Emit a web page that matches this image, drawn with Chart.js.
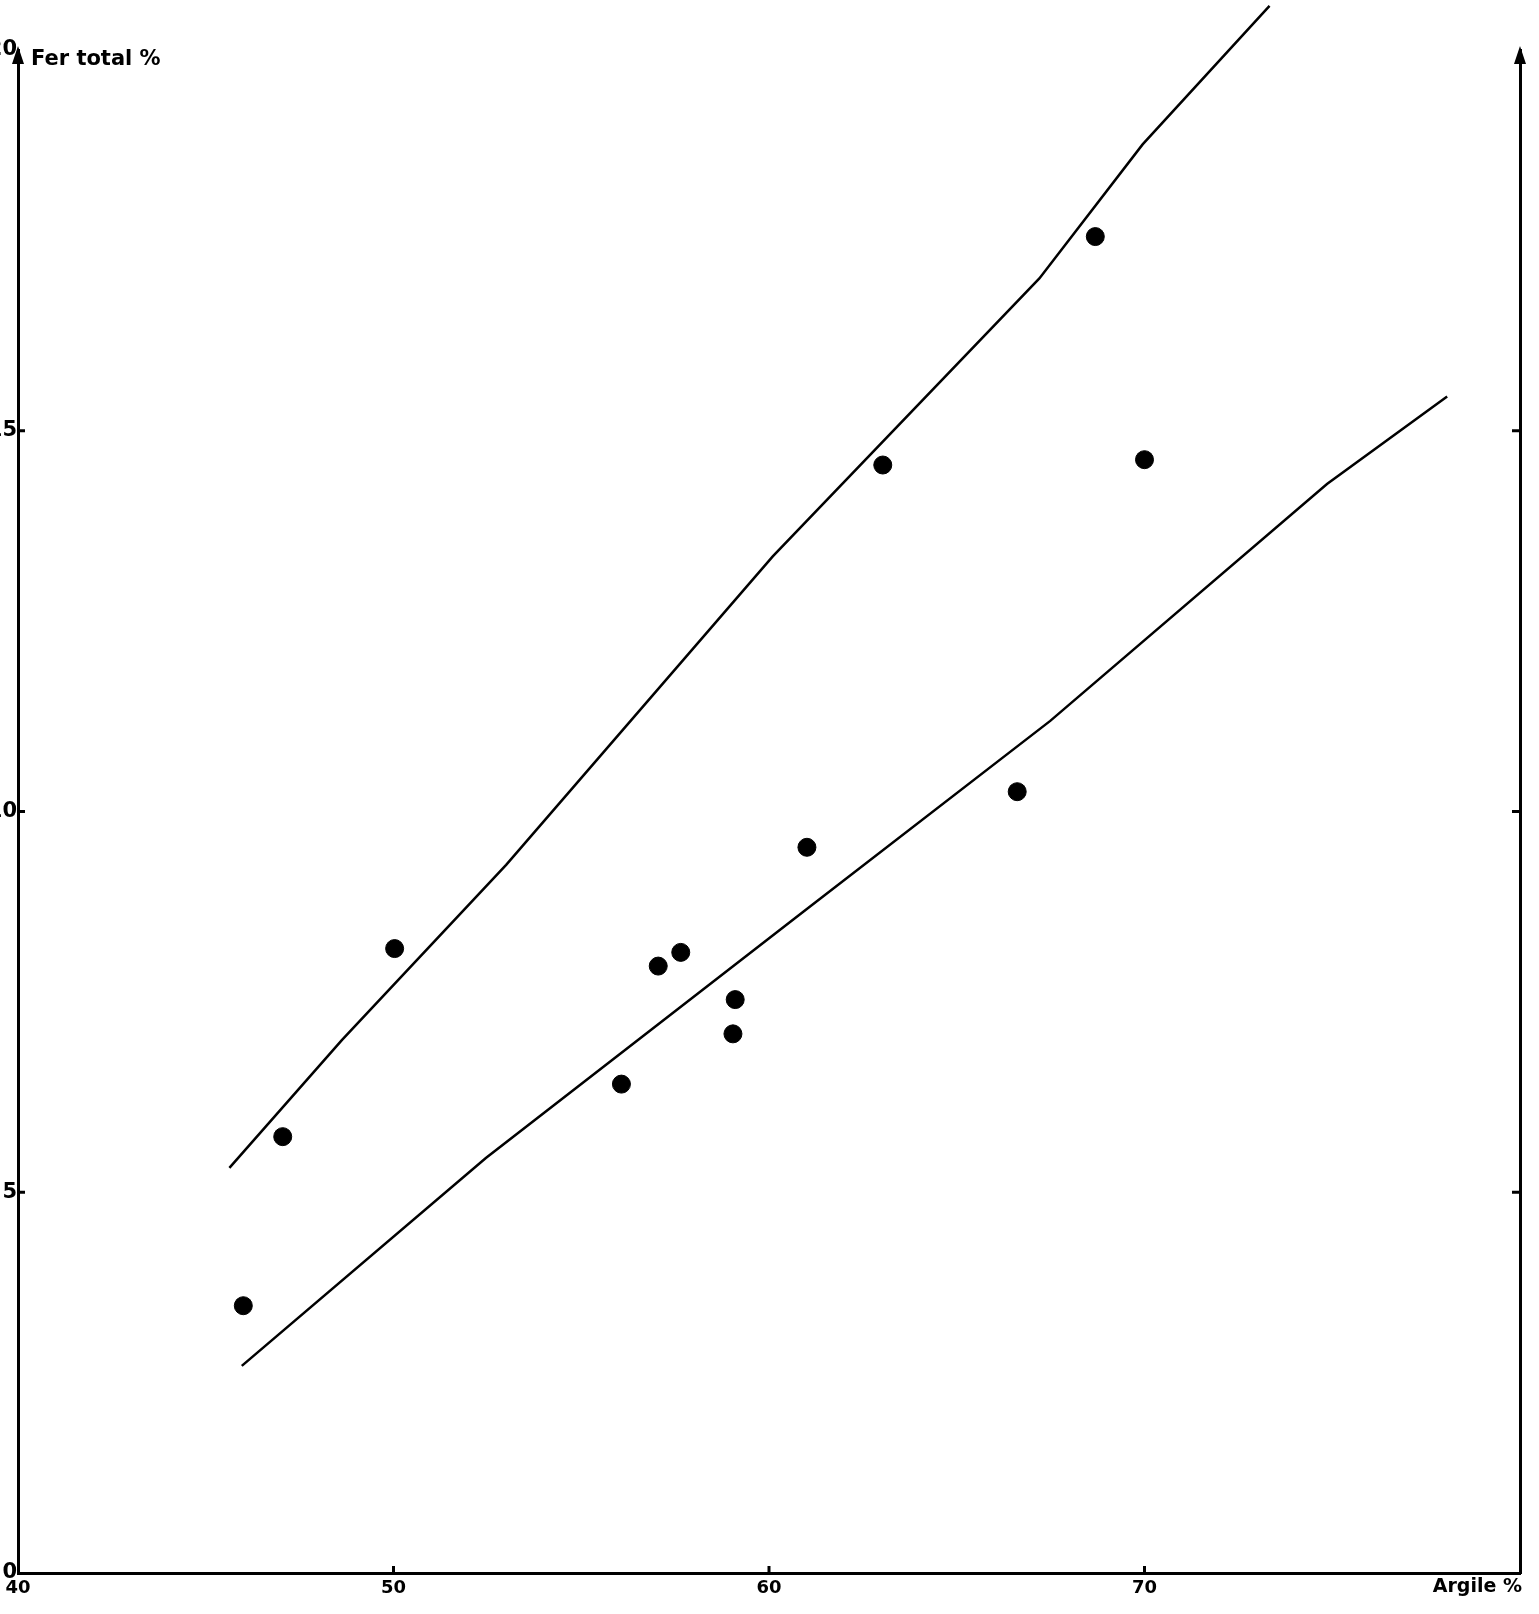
<!DOCTYPE html>
<html>
<head>
<meta charset="utf-8">
<script src="https://cdn.jsdelivr.net/npm/chart.js@4"></script>
<style>
    html, body { margin: 0; padding: 0; background: #fff; overflow: hidden; }
    #wrap { position: absolute; left: -30px; top: 0; width: 1569px; height: 1614px; }
</style>
</head>
<body>
<div id="wrap"><canvas id="chart" width="1569" height="1614"></canvas></div>
<script>
// Argile % / Fer total % samples
const argile   = [46.0, 47.05, 50.03, 56.07, 57.05, 57.65, 59.10, 59.04, 61.01, 63.03, 66.61, 68.69, 70.0];
const ferTotal = [3.51, 5.73, 8.20, 6.42, 7.97, 8.15, 7.53, 7.08, 9.53, 14.55, 10.26, 17.55, 14.62];

// upper and lower envelope lines
const upperX = [45.63, 48.63, 53.0, 60.1, 67.2, 69.95, 73.33];
const upperY = [5.32, 7.0, 9.30, 13.35, 17.0, 18.76, 20.58];
const lowerX = [45.96, 52.46, 60.93, 67.49, 74.86, 78.06];
const lowerY = [2.72, 5.45, 8.69, 11.19, 14.30, 15.45];

const xTicks = [40, 50, 60, 70, 80];
const yTicks = [0, 5, 10, 15, 20];

const pts = (xs, ys) => xs.map((x, i) => ({ x, y: ys[i] }));
const FONT = "'DejaVu Sans', sans-serif";

// inward tick marks, arrows and axis captions
const decor = {
    id: "decor",
    afterDraw(chart) {
        const { ctx, chartArea: a, scales } = chart;
        ctx.save();
        ctx.strokeStyle = "#000";
        ctx.fillStyle = "#000";
        ctx.lineWidth = 3;
        ctx.beginPath();
        xTicks.slice(1, -1).forEach(v => {
            const px = scales.x.getPixelForValue(v);
            ctx.moveTo(px, a.bottom); ctx.lineTo(px, a.bottom - 7);
        });
        yTicks.slice(1, -1).forEach(v => {
            const py = scales.y.getPixelForValue(v);
            ctx.moveTo(a.left, py); ctx.lineTo(a.left + 7, py);
            const py2 = scales.y2.getPixelForValue(v);
            ctx.moveTo(a.right, py2); ctx.lineTo(a.right - 8, py2);
        });
        ctx.stroke();

        // arrowheads on both verticals
        [a.left, a.right].forEach(x => {
            ctx.beginPath();
            ctx.moveTo(x, a.top - 4);
            ctx.lineTo(x - 6, a.top + 14);
            ctx.lineTo(x + 6, a.top + 14);
            ctx.closePath();
            ctx.fill();
        });

        ctx.font = "bold 21px " + FONT;
        ctx.textBaseline = "middle";
        ctx.textAlign = "left";
        ctx.fillText("Fer total %", a.left + 13, 60);
        ctx.font = "bold 19px " + FONT;
        ctx.textAlign = "right";
        ctx.fillText("Argile %", a.right + 2, 1587);
        ctx.restore();
    }
};

new Chart(document.getElementById("chart"), {
    type: "scatter",
    data: {
        datasets: [
            {
                data: pts(argile, ferTotal),
                backgroundColor: "#000", borderColor: "#000",
                pointRadius: 9, pointHoverRadius: 9,
            },
            {
                data: pts(upperX, upperY), showLine: true,
                borderColor: "#000", borderWidth: 2.5, pointRadius: 0,
                clip: false,
            },
            {
                data: pts(lowerX, lowerY), showLine: true,
                borderColor: "#000", borderWidth: 2.5, pointRadius: 0,
                clip: false,
            },
        ]
    },
    options: {
        responsive: false,
        animation: false,
        layout: { padding: { top: 50, left: 0, right: 0, bottom: 0 } },
        plugins: { legend: { display: false }, tooltip: { enabled: false } },
        scales: {
            x: {
                type: "linear", min: 40, max: 80,
                afterFit: s => { s.height = 41; },
                afterBuildTicks: s => { s.ticks = xTicks.map(v => ({ value: v })); },
                grid: { drawOnChartArea: false, drawTicks: false },
                border: { color: "#000", width: 3 },
                ticks: {
                    padding: 5, color: "#000",
                    font: { family: FONT, size: 18, weight: "bold" },
                    callback: v => (v === 80 ? "" : v),
                },
            },
            y: {
                type: "linear", min: 0, max: 20, position: "left",
                afterFit: s => { s.width = 48; },
                afterBuildTicks: s => { s.ticks = yTicks.map(v => ({ value: v })); },
                grid: { drawOnChartArea: false, drawTicks: false },
                border: { color: "#000", width: 3 },
                ticks: {
                    padding: 1, color: "#000",
                    font: { family: FONT, size: 21, weight: "bold" },
                },
            },
            y2: {
                type: "linear", min: 0, max: 20, position: "right",
                afterFit: s => { s.width = 19; },
                grid: { drawOnChartArea: false, drawTicks: false },
                border: { color: "#000", width: 3 },
                ticks: { display: false },
            },
        }
    },
    plugins: [decor]
});
</script>
</body>
</html>
